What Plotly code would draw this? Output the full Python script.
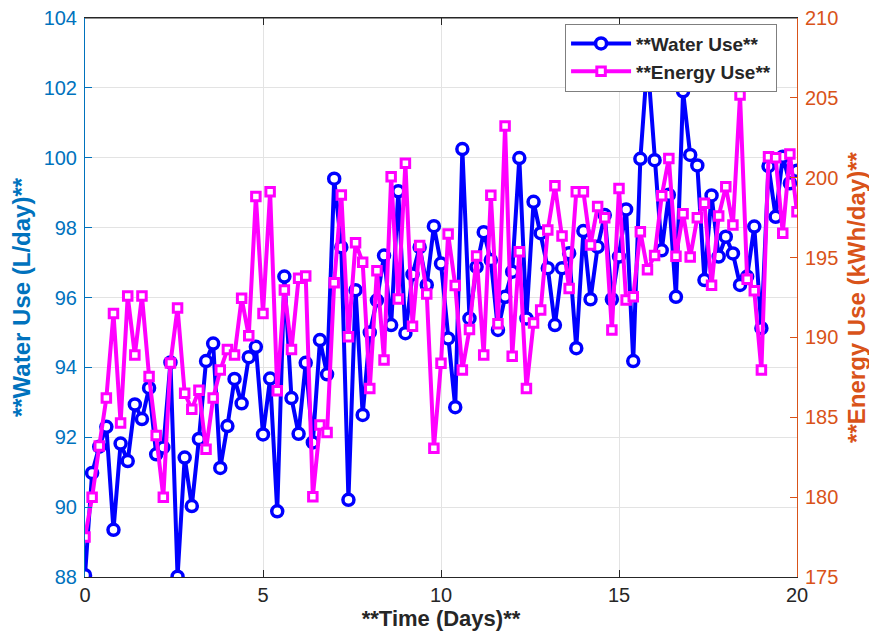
import plotly.graph_objects as go

days = [round(i * 0.2, 1) for i in range(101)]

water_use = [
    88.05, 90.98, 91.73, 92.30, 89.35, 91.82, 91.32, 92.94, 92.52, 93.41,
    91.51, 91.71, 94.14, 88.01, 91.42, 90.03, 91.95, 94.18, 94.68, 91.12,
    92.32, 93.67, 92.97, 94.29, 94.59, 92.08, 93.68, 89.88, 96.60, 93.12,
    92.10, 94.13, 91.85, 94.78, 93.80, 99.40, 97.44, 90.21, 96.21, 92.64,
    95.00, 95.92, 97.20, 95.21, 99.04, 94.98, 96.66, 97.44, 96.36, 98.04,
    96.97, 94.83, 92.86, 100.25, 95.40, 96.88, 97.87, 97.07, 95.07, 96.02,
    96.74, 99.99, 95.40, 98.74, 97.84, 96.84, 95.21, 96.84, 97.27, 94.55,
    97.90, 95.95, 97.45, 98.36, 95.95, 97.17, 98.52, 94.18, 99.97, 102.80,
    99.93, 97.35, 98.94, 96.02, 101.90, 100.08, 99.78, 96.50, 98.92, 97.17,
    97.74, 97.26, 96.36, 96.60, 98.03, 95.12, 99.76, 98.31, 100.03, 99.27,
    99.63,
]

energy_use = [
    177.50, 180.00, 183.20, 186.20, 191.50, 184.65, 192.60, 188.90, 192.60, 187.56,
    183.86, 180.00, 188.40, 191.85, 186.50, 185.50, 186.70, 183.00, 186.20, 187.96,
    189.24, 188.90, 192.45, 190.10, 198.82, 191.50, 199.12, 186.66, 192.97, 189.25,
    193.70, 193.85, 180.03, 184.52, 184.05, 193.43, 198.92, 190.04, 195.93, 194.70,
    186.81, 194.18, 188.58, 200.06, 192.40, 200.90, 190.70, 195.76, 192.72, 183.06,
    188.38, 196.47, 193.25, 187.96, 190.50, 195.10, 188.90, 198.90, 190.85, 203.24,
    188.82, 195.37, 186.80, 190.90, 191.72, 196.73, 199.50, 196.35, 193.07, 199.12,
    199.12, 195.79, 198.19, 197.50, 190.46, 199.33, 192.34, 192.55, 196.62, 194.23,
    195.13, 198.87, 201.21, 195.08, 197.75, 195.03, 197.50, 198.40, 193.27, 197.60,
    199.44, 197.04, 205.18, 193.64, 192.92, 187.96, 201.32, 201.25, 196.52, 201.48,
    197.87,
]

x_ticks = [0, 5, 10, 15, 20]
water_ticks = [88, 90, 92, 94, 96, 98, 100, 102, 104]
energy_ticks = [175, 180, 185, 190, 195, 200, 205, 210]

LEFT_C = "#0072BD"
RIGHT_C = "#D95319"
DARK = "#262626"
FONT = "Liberation Sans, Arial, Helvetica, sans-serif"
TICK_SIZE = 20
YLABEL_SIZE = 24
XLABEL_SIZE = 22

fig = go.Figure()
fig.add_trace(go.Scatter(
    x=days, y=water_use, name="**Water Use**", mode="lines+markers",
    line=dict(color="#0000FF", width=4),
    marker=dict(symbol="circle", size=11, color="white",
                line=dict(color="#0000FF", width=3.5)),
    yaxis="y",
))
fig.add_trace(go.Scatter(
    x=days, y=energy_use, name="**Energy Use**", mode="lines+markers",
    line=dict(color="#FF00FF", width=4),
    marker=dict(symbol="square", size=8.5, color="white",
                line=dict(color="#FF00FF", width=3)),
    yaxis="y2",
))

fig.update_layout(
    width=869, height=631,
    margin=dict(l=77, r=80, t=10, b=62, autoexpand=False),
    paper_bgcolor="white", plot_bgcolor="white",
    font=dict(family=FONT, size=TICK_SIZE, color=DARK),
    showlegend=True,
    legend=dict(
        x=0.972, y=0.99, xanchor="right", yanchor="top",
        bgcolor="white", bordercolor="#7f7f7f", borderwidth=1,
        font=dict(family=FONT, size=19, color=DARK, weight="bold"),
        tracegroupgap=0, itemwidth=60,
    ),
    xaxis=dict(
        range=[0, 20], tickvals=x_ticks, ticktext=[str(v) for v in x_ticks],
        showgrid=True, gridcolor="#e3e3e3", gridwidth=1,
        showline=True, linecolor=DARK, linewidth=1, mirror="ticks",
        ticks="inside", ticklen=7, tickcolor=DARK,
        zeroline=False, automargin=False,
        tickfont=dict(family=FONT, size=TICK_SIZE, color=DARK),
        title=dict(text="**Time (Days)**", standoff=4,
                   font=dict(family=FONT, size=XLABEL_SIZE, color=DARK, weight="bold")),
    ),
    yaxis=dict(
        range=[88, 104], tickvals=water_ticks, ticktext=[str(v) for v in water_ticks],
        showgrid=True, gridcolor="#e3e3e3", gridwidth=1,
        showline=True, linecolor=LEFT_C, linewidth=1,
        ticks="inside", ticklen=7, tickcolor=LEFT_C,
        ticklabelstandoff=3, ticklabeloverflow="allow",
        zeroline=False, automargin=False,
        tickfont=dict(family=FONT, size=TICK_SIZE, color=LEFT_C),
        title=dict(text="**Water Use (L/day)**", standoff=9,
                   font=dict(family=FONT, size=YLABEL_SIZE, color=LEFT_C, weight="bold")),
    ),
    yaxis2=dict(
        range=[175, 210], tickvals=energy_ticks, ticktext=[str(v) for v in energy_ticks],
        overlaying="y", side="right",
        showgrid=False,
        showline=True, linecolor=RIGHT_C, linewidth=1,
        ticks="inside", ticklen=7, tickcolor=RIGHT_C,
        ticklabelstandoff=3, ticklabeloverflow="allow",
        zeroline=False, automargin=False,
        tickfont=dict(family=FONT, size=TICK_SIZE, color=RIGHT_C),
        title=dict(text="**Energy Use (kWh/day)**", standoff=10,
                   font=dict(family=FONT, size=YLABEL_SIZE, color=RIGHT_C, weight="bold")),
    ),
)

# top frame line of the axes box
fig.add_shape(type="line", xref="paper", yref="paper", x0=0, x1=1, y0=1, y1=1,
              line=dict(color=DARK, width=1), layer="above")

fig.write_html("out.html")
